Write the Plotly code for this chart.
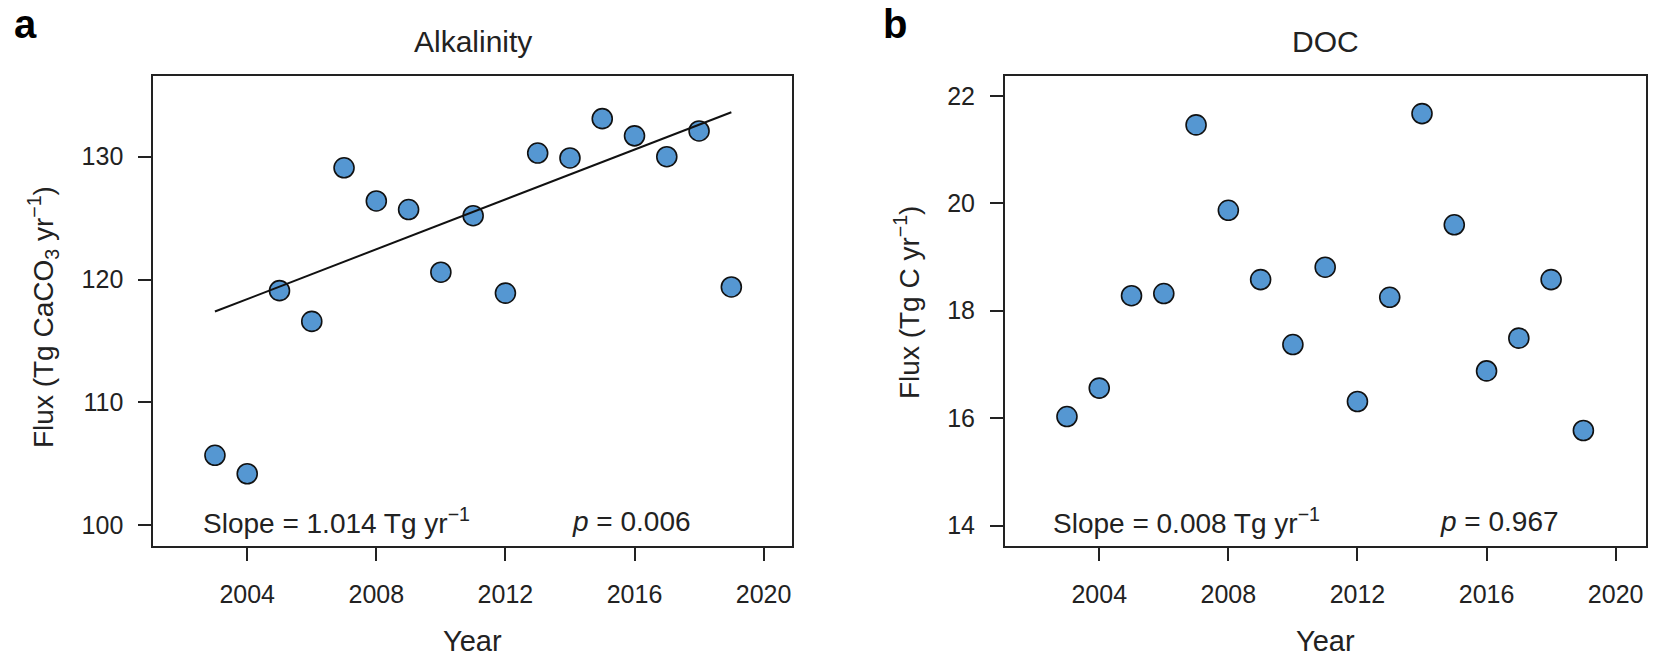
import plotly.graph_objects as go

# ---------------- data ----------------
years = [2003, 2004, 2005, 2006, 2007, 2008, 2009, 2010, 2011,
         2012, 2013, 2014, 2015, 2016, 2017, 2018, 2019]

alkalinity_flux = [105.7, 104.2, 119.1, 116.6, 129.1, 126.4, 125.7, 120.6, 125.2,
                   118.9, 130.3, 129.9, 133.1, 131.7, 130.0, 132.1, 119.4]

doc_flux = [16.03, 16.56, 18.28, 18.32, 21.46, 19.87, 18.58, 17.37, 18.81,
            16.31, 18.25, 21.67, 19.60, 16.88, 17.49, 18.58, 15.77]

alk_slope = 1.014          # Tg yr-1
alk_trend_start = 117.4    # fitted value at first year
alk_p = "0.006"
doc_slope = 0.008
doc_p = "0.967"

x_ticks = [2004, 2008, 2012, 2016, 2020]
alk_y_ticks = [100, 110, 120, 130]
doc_y_ticks = [14, 16, 18, 20, 22]

# ---------------- styling ----------------
W, H = 1662, 659
FONT = "Liberation Sans, Arial, sans-serif"
TXT = "#222222"
MARKER_FILL = "#5597d2"

# panel pixel boxes (left, right, top, bottom)
A_BOX = (153.3, 791.7, 76.0, 546.0)
B_BOX = (1005.0, 1646.0, 76.0, 546.0)


def xdom(box):
    return [box[0] / W, box[1] / W]


def ydom(box):
    return [(H - box[3]) / H, (H - box[2]) / H]


fig = go.Figure()

marker = dict(size=20, color=MARKER_FILL, line=dict(color="#111111", width=1.6))

fig.add_trace(go.Scatter(x=years, y=alkalinity_flux, mode="markers",
                         marker=marker, xaxis="x", yaxis="y", showlegend=False))

trend_x = [years[0], years[-1]]
trend_y = [alk_trend_start, alk_trend_start + alk_slope * (years[-1] - years[0])]
fig.add_trace(go.Scatter(x=trend_x, y=trend_y, mode="lines",
                         line=dict(color="#111111", width=2),
                         xaxis="x", yaxis="y", showlegend=False))

fig.add_trace(go.Scatter(x=years, y=doc_flux, mode="markers",
                         marker=marker, xaxis="x2", yaxis="y2", showlegend=False))

axis_common = dict(showgrid=False, zeroline=False, showline=True, linecolor="#222222",
                   linewidth=2, mirror=True, ticks="outside", ticklen=13, tickwidth=2,
                   tickcolor="#222222", tickfont=dict(family=FONT, size=25, color=TXT))

fig.update_layout(
    width=W, height=H,
    margin=dict(l=0, r=0, t=0, b=0),
    paper_bgcolor="white", plot_bgcolor="white",
    font=dict(family=FONT, color=TXT),
    xaxis=dict(domain=xdom(A_BOX), range=[2001.09, 2020.87], tickvals=x_ticks,
               anchor="y", ticklabelstandoff=12, **axis_common),
    yaxis=dict(domain=ydom(A_BOX), range=[98.32, 136.57], tickvals=alk_y_ticks,
               anchor="x", ticklabelstandoff=10, **axis_common),
    xaxis2=dict(domain=xdom(B_BOX), range=[2001.08, 2020.94], tickvals=x_ticks,
                anchor="y2", ticklabelstandoff=12, **axis_common),
    yaxis2=dict(domain=ydom(B_BOX), range=[13.62, 22.37], tickvals=doc_y_ticks,
                anchor="x2", ticklabelstandoff=10, **axis_common),
)


def px_x(v):
    return v / W


def px_y(v):
    return (H - v) / H


ann = []
# panel letters
ann.append(dict(text="<b>a</b>", x=px_x(12), y=1.0, xanchor="left", yanchor="top",
                font=dict(size=40, color="#000000", family=FONT)))
ann.append(dict(text="<b>b</b>", x=px_x(881), y=1.0, xanchor="left", yanchor="top",
                font=dict(size=40, color="#000000", family=FONT)))
# panel titles
ann.append(dict(text="Alkalinity", x=px_x((A_BOX[0] + A_BOX[1]) / 2), y=px_y(41),
                xanchor="center", yanchor="middle", font=dict(size=30, color=TXT, family=FONT)))
ann.append(dict(text="DOC", x=px_x((B_BOX[0] + B_BOX[1]) / 2), y=px_y(41),
                xanchor="center", yanchor="middle", font=dict(size=30, color=TXT, family=FONT)))
# x titles
ann.append(dict(text="Year", x=px_x((A_BOX[0] + A_BOX[1]) / 2), y=0.0,
                xanchor="center", yanchor="bottom", font=dict(size=29, color=TXT, family=FONT)))
ann.append(dict(text="Year", x=px_x((B_BOX[0] + B_BOX[1]) / 2), y=0.0,
                xanchor="center", yanchor="bottom", font=dict(size=29, color=TXT, family=FONT)))
# y titles
ann.append(dict(text="Flux (Tg CaCO<sub>3</sub> yr<sup>\u22121</sup>)", x=px_x(43), y=px_y(317),
                xanchor="center", yanchor="middle", textangle=-90,
                font=dict(size=28, color=TXT, family=FONT)))
ann.append(dict(text="Flux (Tg C yr<sup>\u22121</sup>)", x=px_x(907), y=px_y(303),
                xanchor="center", yanchor="middle", textangle=-90,
                font=dict(size=28, color=TXT, family=FONT)))
# stats
ann.append(dict(text=f"Slope = {alk_slope:.3f} Tg yr<sup>\u22121</sup>", x=px_x(201), y=px_y(521),
                xanchor="left", yanchor="middle", font=dict(size=28, color=TXT, family=FONT)))
ann.append(dict(text=f"<i>p</i> = {alk_p}", x=px_x(570), y=px_y(521),
                xanchor="left", yanchor="middle", font=dict(size=28, color=TXT, family=FONT)))
ann.append(dict(text=f"Slope = {doc_slope:.3f} Tg yr<sup>\u22121</sup>", x=px_x(1051), y=px_y(521),
                xanchor="left", yanchor="middle", font=dict(size=28, color=TXT, family=FONT)))
ann.append(dict(text=f"<i>p</i> = {doc_p}", x=px_x(1438), y=px_y(521),
                xanchor="left", yanchor="middle", font=dict(size=28, color=TXT, family=FONT)))

for a in ann:
    a.update(xref="paper", yref="paper", showarrow=False)
fig.update_layout(annotations=ann)

fig.write_html("out.html")
